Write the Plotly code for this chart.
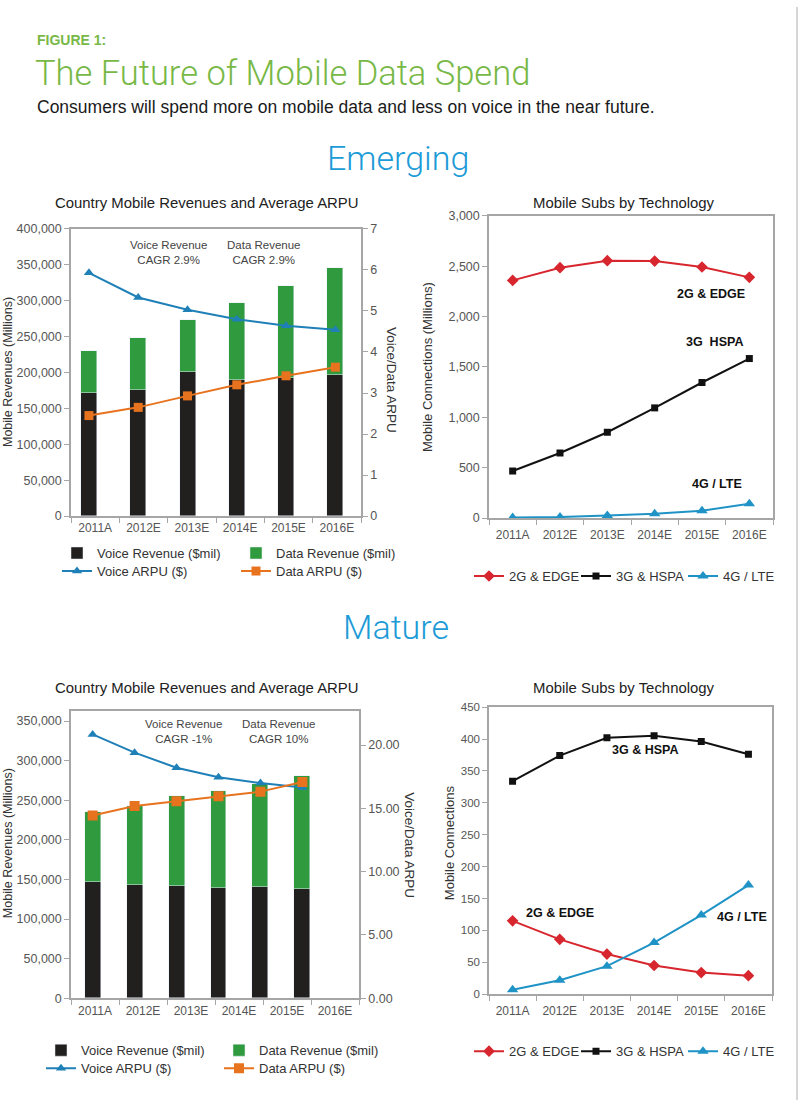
import plotly.graph_objects as go

W, H = 800, 1107
FONT = "Liberation Sans, Arial, sans-serif"

years = ["2011A", "2012E", "2013E", "2014E", "2015E", "2016E"]

# Emerging markets
em_voice_rev = [171400, 176100, 201200, 189100, 192300, 196500]
em_data_rev = [58600, 72000, 72400, 108200, 127800, 148700]
em_voice_arpu = [5.93, 5.33, 5.03, 4.80, 4.64, 4.54]
em_data_arpu = [2.45, 2.65, 2.93, 3.20, 3.42, 3.63]
em_2g = [2360, 2486, 2556, 2552, 2493, 2390]
em_3g = [467, 646, 852, 1094, 1346, 1584]
em_4g = [5, 10, 26, 43, 73, 143]

# Mature markets
ma_voice_rev = [146600, 143300, 141600, 139100, 140300, 137500]
ma_data_rev = [87900, 99600, 113400, 123100, 129800, 143500]
ma_voice_arpu = [20.84, 19.40, 18.21, 17.45, 17.00, 16.64]
ma_data_arpu = [14.43, 15.19, 15.56, 15.95, 16.32, 17.08]
ma_2g = [115, 86, 63, 45, 34, 29]
ma_3g = [334, 374, 402, 405, 396, 376]
ma_4g = [7, 22, 44, 81, 124, 171]

C_BLACK = "#221f1f"
C_GREEN = "#2f9a3e"
C_VBLUE = "#1f80b8"
C_ORANGE = "#e8731f"
C_RED = "#d7262e"
C_LTE = "#1f93c6"
AX = "#a6a6a6"
TXT = "#555555"


def px_x(p):
    return p / W


def px_y(p):
    # vertical placement in pixels from the top, with a small correction for page rendering
    q = 10 + (p - 17) / 0.987
    return 1 - q / H


fig = go.Figure()

# ---------- Emerging: revenues ----------
fig.add_trace(go.Scatter(x=years, y=em_voice_rev, xaxis="x", yaxis="y", mode="markers",
                         marker=dict(opacity=0), showlegend=False, hoverinfo="skip"))
fig.add_trace(go.Bar(x=years, y=em_voice_rev, xaxis="x2", yaxis="y", name="Voice Revenue ($mil)",
                     marker=dict(color=C_BLACK), width=0.324, legend="legend"))
fig.add_trace(go.Bar(x=years, y=em_data_rev, xaxis="x2", yaxis="y", name="Data Revenue ($mil)",
                     marker=dict(color=C_GREEN), width=0.324, legend="legend"))
fig.add_trace(go.Scatter(x=years, y=em_voice_arpu, xaxis="x2", yaxis="y2", name="Voice ARPU ($)",
                         mode="lines+markers", line=dict(color=C_VBLUE, width=2),
                         marker=dict(symbol="triangle-up", size=9, color=C_VBLUE), legend="legend2"))
fig.add_trace(go.Scatter(x=years, y=em_data_arpu, xaxis="x2", yaxis="y2", name="Data ARPU ($)",
                         mode="lines+markers", line=dict(color=C_ORANGE, width=2),
                         marker=dict(symbol="square", size=9, color=C_ORANGE), legend="legend2"))

# ---------- Emerging: subs ----------
fig.add_trace(go.Scatter(x=years, y=em_2g, xaxis="x3", yaxis="y3", name="2G & EDGE",
                         mode="lines+markers", line=dict(color=C_RED, width=2),
                         marker=dict(symbol="diamond", size=9, color=C_RED), legend="legend3"))
fig.add_trace(go.Scatter(x=years, y=em_3g, xaxis="x3", yaxis="y3", name="3G & HSPA",
                         mode="lines+markers", line=dict(color="#111111", width=2),
                         marker=dict(symbol="square", size=7, color="#111111"), legend="legend3"))
fig.add_trace(go.Scatter(x=years, y=em_4g, xaxis="x3", yaxis="y3", name="4G / LTE",
                         mode="lines+markers", line=dict(color=C_LTE, width=2),
                         marker=dict(symbol="triangle-up", size=10, color=C_LTE), legend="legend3"))

# ---------- Mature: revenues ----------
fig.add_trace(go.Scatter(x=years, y=ma_voice_rev, xaxis="x5", yaxis="y5", mode="markers",
                         marker=dict(opacity=0), showlegend=False, hoverinfo="skip"))
fig.add_trace(go.Bar(x=years, y=ma_voice_rev, xaxis="x6", yaxis="y5", name="Voice Revenue ($mil)",
                     marker=dict(color=C_BLACK), width=0.38, legend="legend4"))
fig.add_trace(go.Bar(x=years, y=ma_data_rev, xaxis="x6", yaxis="y5", name="Data Revenue ($mil)",
                     marker=dict(color=C_GREEN), width=0.38, legend="legend4"))
fig.add_trace(go.Scatter(x=years, y=ma_voice_arpu, xaxis="x6", yaxis="y6", name="Voice ARPU ($)",
                         mode="lines+markers", line=dict(color=C_VBLUE, width=2),
                         marker=dict(symbol="triangle-up", size=9, color=C_VBLUE), legend="legend5"))
fig.add_trace(go.Scatter(x=years, y=ma_data_arpu, xaxis="x6", yaxis="y6", name="Data ARPU ($)",
                         mode="lines+markers", line=dict(color=C_ORANGE, width=2),
                         marker=dict(symbol="square", size=10, color=C_ORANGE), legend="legend5"))

# ---------- Mature: subs ----------
fig.add_trace(go.Scatter(x=years, y=ma_2g, xaxis="x4", yaxis="y4", name="2G & EDGE",
                         mode="lines+markers", line=dict(color=C_RED, width=2),
                         marker=dict(symbol="diamond", size=9, color=C_RED), legend="legend6"))
fig.add_trace(go.Scatter(x=years, y=ma_3g, xaxis="x4", yaxis="y4", name="3G & HSPA",
                         mode="lines+markers", line=dict(color="#111111", width=2),
                         marker=dict(symbol="square", size=7, color="#111111"), legend="legend6"))
fig.add_trace(go.Scatter(x=years, y=ma_4g, xaxis="x4", yaxis="y4", name="4G / LTE",
                         mode="lines+markers", line=dict(color=C_LTE, width=2),
                         marker=dict(symbol="triangle-up", size=10, color=C_LTE), legend="legend6"))

tickfont = dict(family=FONT, size=12, color=TXT)


def cat_axis(domain, anchor, standoff=0):
    return dict(domain=domain, anchor=anchor, type="category", categoryorder="array",
                categoryarray=years, range=[-0.5, 5.5], showline=True, linecolor=AX,
                linewidth=1.5, mirror=True, ticks="outside", tickson="boundaries",
                ticklen=5, tickcolor=AX, tickfont=tickfont, showgrid=False, zeroline=False,
                fixedrange=True, ticklabelstandoff=standoff)


def hidden_axis(over, rng):
    return dict(overlaying=over, type="category", categoryorder="array", categoryarray=years,
                range=rng, visible=False, showgrid=False, zeroline=False)


def val_axis(domain, anchor, rng, dtick, fmt=",", side="left", overlaying=None):
    d = dict(domain=domain, anchor=anchor, range=rng, dtick=dtick, tick0=0, tickformat=fmt,
             showline=True, linecolor=AX, linewidth=1.5, ticks="outside", ticklen=5,
             tickcolor=AX, tickfont=dict(family=FONT, size=12.5, color=TXT), showgrid=False,
             zeroline=False, side=side, fixedrange=True)
    if overlaying:
        d["overlaying"] = overlaying
        d.pop("domain")
    else:
        d["mirror"] = True
    return d


layout = dict(
    width=W, height=H, margin=dict(l=0, r=0, t=0, b=0), paper_bgcolor="white",
    plot_bgcolor="white", barmode="stack", bargap=0, font=dict(family=FONT),
    xaxis=cat_axis([px_x(71), px_x(361)], "y"),
    xaxis2=hidden_axis("x", [-0.364, 5.52]),
    yaxis=val_axis([px_y(516), px_y(229)], "x", [0, 400000], 50000),
    yaxis2=val_axis(None, "x", [0, 7], 1, fmt="d", side="right", overlaying="y"),
    xaxis3=cat_axis([px_x(489), px_x(773)], "y3", 5),
    yaxis3=val_axis([px_y(518), px_y(216)], "x3", [0, 3000], 500),
    xaxis5=cat_axis([px_x(71), px_x(359)], "y5", 1),
    xaxis6=hidden_axis("x5", [-0.516, 6.349]),
    yaxis5=val_axis([px_y(998), px_y(711)], "x5", [0, 362600], 50000),
    yaxis6=val_axis(None, "x5", [0, 22.68], 5, fmt=".2f", side="right", overlaying="y5"),
    xaxis4=cat_axis([px_x(489), px_x(772)], "y4", 5),
    yaxis4=val_axis([px_y(994), px_y(707)], "x4", [0, 450], 50),
)
layout["yaxis4"]["tickfont"] = dict(family=FONT, size=11.5, color=TXT)


def leg(xpx, ypx, ew):
    return dict(x=px_x(xpx), y=px_y(ypx), xanchor="left", yanchor="middle", orientation="h",
                entrywidth=ew, entrywidthmode="pixels", bgcolor="rgba(0,0,0,0)",
                font=dict(family=FONT, size=13, color="#333333"), itemwidth=30,
                tracegroupgap=0, traceorder="normal")


layout["legend"] = leg(57, 553, 134)
layout["legend2"] = leg(57, 571, 134)
layout["legend3"] = leg(469, 576, 62)
layout["legend4"] = leg(41, 1050, 133)
layout["legend5"] = leg(41, 1068, 133)
layout["legend6"] = leg(469, 1051, 62)

fig.update_layout(**layout)

ann = []


def text(x, y, s, size, color="#222222", xanchor="center", angle=0, weight="normal", family=FONT):
    ann.append(dict(x=px_x(x), y=px_y(y), xref="paper", yref="paper", text=s, showarrow=False,
                    xanchor=xanchor, yanchor="middle", textangle=angle,
                    font=dict(family=family, size=size, color=color, weight=weight)))


LIGHT = "Roboto, Liberation Sans, sans-serif"
GREEN_T = "#78b846"
BLUE_T = "#1d9bd7"

text(35, 40, "FIGURE 1:", 14, GREEN_T, "left", weight="bold")
text(33, 73, "The Future of Mobile Data Spend", 34.5, GREEN_T, "left", weight=300, family=LIGHT)
text(35, 107, "Consumers will spend more on mobile data and less on voice in the near future.",
     17.5, "#1a1a1a", "left")
text(398, 158, "Emerging", 34, BLUE_T, weight=300, family=LIGHT)
text(396, 627, "Mature", 34, BLUE_T, weight=300, family=LIGHT)

# chart titles
text(207, 203, "Country Mobile Revenues and Average ARPU", 14.9)
text(624, 203, "Mobile Subs by Technology", 14.9)
text(207, 688, "Country Mobile Revenues and Average ARPU", 14.9)
text(624, 688, "Mobile Subs by Technology", 14.9)

# axis titles
text(8, 372, "Mobile Revenues (Millions)", 12.5, "#333333", angle=-90)
text(392, 380, "Voice/Data ARPU", 13.5, "#333333", angle=90)
text(428, 367, "Mobile Connections (Millions)", 13, "#333333", angle=-90)
text(8, 843, "Mobile Revenues (Millions)", 12.5, "#333333", angle=-90)
text(410, 845, "Voice/Data ARPU", 13.5, "#333333", angle=90)
text(449, 843, "Mobile Connections", 13, "#333333", angle=-90)

# CAGR notes
text(168, 253, "Voice Revenue<br>CAGR 2.9%", 11.5, "#444444")
text(264, 253, "Data Revenue<br>CAGR 2.9%", 11.5, "#444444")
text(183, 731, "Voice Revenue<br>CAGR -1%", 11.5, "#444444")
text(279, 731, "Data Revenue<br>CAGR 10%", 11.5, "#444444")

# series labels
text(711, 294, "<b>2G & EDGE</b>", 12.5, "#111111")
text(714, 342, "<b>3G  HSPA</b>", 12.5, "#111111")
text(717, 484, "<b>4G / LTE</b>", 12.5, "#111111")
text(645, 750, "<b>3G & HSPA</b>", 12.5, "#111111")
text(560, 913, "<b>2G & EDGE</b>", 12.5, "#111111")
text(742, 917, "<b>4G / LTE</b>", 12.5, "#111111")

fig.update_layout(annotations=ann)

fig.add_shape(type="line", xref="paper", yref="paper", x0=px_x(797), x1=px_x(797), y0=0, y1=1,
              line=dict(color="#c8c8c8", width=1.5))

fig.write_html("out.html", config={"displayModeBar": False},
               post_script="document.body.style.margin='0';document.body.style.overflow='hidden';")
